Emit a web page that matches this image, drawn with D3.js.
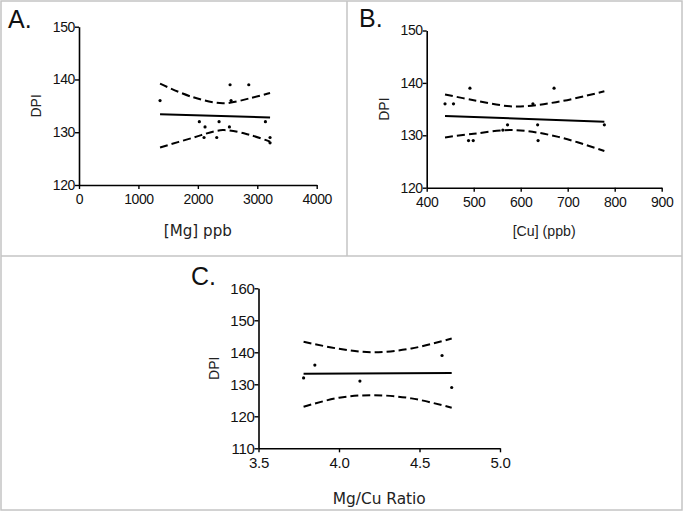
<!DOCTYPE html>
<html><head><meta charset="utf-8">
<script src="https://cdn.jsdelivr.net/npm/d3@7"></script>
<style>
body{margin:0;background:#fff;}
svg{display:block;}
</style></head>
<body>
<svg id="c" width="684" height="513"></svg>
<script>
// ---- data ----
const mgX   = [1364, 2025, 2121, 2104, 2357, 2318, 2542, 2559, 2531, 2857, 3137, 3215, 3215];
const mgDPI = [136, 132, 131, 129, 132, 129, 139, 136, 131, 139, 132, 129, 128];
const mgFitX = [1364, 3215];
const mgFitY = [133.4, 132.8];
const mgBandX = [1364, 1900, 2420, 2900, 3215];
const mgUpper = [139.2, 136.7, 135.5, 136.5, 137.45];
const mgLower = [127.1, 128.9, 130.4, 129.4, 128.2];
const mgXTicks = [0, 1000, 2000, 3000, 4000];
const mgYTicks = [120, 130, 140, 150];

const cuX   = [439, 457, 492, 489, 499, 562, 572, 626, 636, 637, 671, 778];
const cuDPI = [136, 136, 139, 129, 129, 131, 132, 136, 132, 129, 139, 132];
const cuFitX = [439, 778];
const cuFitY = [133.7, 132.6];
const cuBandX = [439, 500, 587, 680, 778];
const cuUpper = [137.8, 136.7, 135.5, 136.4, 138.4];
const cuLower = [129.6, 130.3, 131.0, 129.7, 127.0];
const cuXTicks = [400, 500, 600, 700, 800, 900];
const cuYTicks = [120, 130, 140, 150];

const ratioX   = [3.78, 3.85, 4.13, 4.64, 4.70];
const ratioDPI = [132, 136, 131, 139, 129];
const ratioFitX = [3.78, 4.70];
const ratioFitY = [133.3, 133.5];
const ratioBandX = [3.78, 4.0, 4.21, 4.45, 4.70];
const ratioUpper = [143.3, 141.1, 140.0, 141.2, 144.3];
const ratioLower = [123.0, 125.8, 126.6, 125.6, 122.7];
const ratioXTicks = [3.5, 4.0, 4.5, 5.0];
const ratioYTicks = [110, 120, 130, 140, 150, 160];

const svg = d3.select("#c");

// panel frames
const frame = svg.append("g").attr("stroke", "#c4c4c4").attr("stroke-width", 1.5).attr("fill", "none");
frame.append("rect").attr("x", 1).attr("y", 1).attr("width", 681).attr("height", 509);
frame.append("line").attr("x1", 1).attr("x2", 682).attr("y1", 256).attr("y2", 256);
frame.append("line").attr("x1", 347).attr("x2", 347).attr("y1", 1).attr("y2", 256);

const sans = "Liberation Sans, Arial, sans-serif";

function panel(o) {
  const x = d3.scaleLinear().domain(o.xDomain).range([o.left, o.right]);
  const y = d3.scaleLinear().domain(o.yDomain).range([o.bottom, o.top]);
  const g = svg.append("g");

  const xa = g.append("g").attr("transform", `translate(0,${o.bottom})`)
    .call(d3.axisBottom(x).tickValues(o.xTicks).tickSize(4).tickSizeOuter(0).tickPadding(5).tickFormat(o.xFmt || d3.format("d")));
  const ya = g.append("g").attr("transform", `translate(${o.left},0)`)
    .call(d3.axisLeft(y).tickValues(o.yTicks).tickSize(4).tickSizeOuter(0).tickPadding(0).tickFormat(d3.format("d")));
  [xa, ya].forEach(a => {
    a.select(".domain").attr("stroke", "#000").attr("stroke-width", 1.6);
    a.selectAll(".tick line").attr("stroke", "#000").attr("stroke-width", 1.4);
    a.selectAll("text").attr("fill", "#111").style("font-family", sans)
      .style("font-size", o.tickSize).style("letter-spacing", o.tickSpacing);
  });

  // confidence bands
  const band = d3.line().x(d => x(d[0])).y(d => y(d[1])).curve(d3.curveCatmullRom);
  [o.upper, o.lower].forEach(arr => {
    g.append("path").datum(o.bandX.map((v, i) => [v, arr[i]]))
      .attr("d", band).attr("fill", "none").attr("stroke", "#000")
      .attr("stroke-width", 2).attr("stroke-dasharray", "8,4");
  });
  // fit line
  g.append("path").datum(o.fitX.map((v, i) => [v, o.fitY[i]]))
    .attr("d", d3.line().x(d => x(d[0])).y(d => y(d[1])))
    .attr("fill", "none").attr("stroke", "#000").attr("stroke-width", 2);
  // points
  g.selectAll("circle.pt").data(o.px.map((v, i) => [v, o.py[i]])).join("circle")
    .attr("class", "pt").attr("cx", d => x(d[0])).attr("cy", d => y(d[1])).attr("r", 1.6).attr("fill", "#000");

  // labels
  g.append("text").attr("x", o.letterX).attr("y", o.letterY).text(o.letter)
    .style("font-family", sans).style("font-size", "25px").attr("fill", "#111");
  g.append("text").attr("transform", `translate(${o.yLabX},${(o.top + o.bottom) / 2}) rotate(-90)`)
    .attr("text-anchor", "middle").attr("dy", "0.35em").text("DPI")
    .style("font-family", sans).style("font-size", "14px").attr("fill", "#222");
  g.append("text").attr("x", (o.left + o.right) / 2).attr("y", o.xLabY).attr("text-anchor", "middle")
    .attr("textLength", o.xLabLen).attr("lengthAdjust", "spacingAndGlyphs")
    .text(o.xLabel).style("font-family", o.xLabFont).style("font-size", o.xLabSize).attr("fill", "#222");
}

panel({
  xDomain: [0, 4000], yDomain: [120, 150],
  left: 79, right: 316.7, top: 26.7, bottom: 185,
  xTicks: mgXTicks, yTicks: mgYTicks, tickSize: "14px", tickSpacing: "-0.4px",
  px: mgX, py: mgDPI, fitX: mgFitX, fitY: mgFitY,
  bandX: mgBandX, upper: mgUpper, lower: mgLower,
  letter: "A.", letterX: 8, letterY: 28, yLabX: 36,
  xLabel: "[Mg] ppb", xLabY: 236, xLabFont: "DejaVu Sans, Verdana, sans-serif", xLabSize: "15px", xLabLen: 68
});

panel({
  xDomain: [400, 900], yDomain: [120, 150],
  left: 426.7, right: 661.7, top: 30.5, bottom: 187.7,
  xTicks: cuXTicks, yTicks: cuYTicks, tickSize: "14px", tickSpacing: "-0.4px",
  px: cuX, py: cuDPI, fitX: cuFitX, fitY: cuFitY,
  bandX: cuBandX, upper: cuUpper, lower: cuLower,
  letter: "B.", letterX: 359, letterY: 27, yLabX: 384,
  xLabel: "[Cu] (ppb)", xLabY: 236, xLabFont: sans, xLabSize: "14.5px", xLabLen: 63
});

panel({
  xDomain: [3.5, 5.0], yDomain: [110, 160],
  left: 258.5, right: 500, top: 288.3, bottom: 448.3,
  xTicks: ratioXTicks, yTicks: ratioYTicks, xFmt: d3.format(".1f"), tickSize: "15px", tickSpacing: "-0.3px",
  px: ratioX, py: ratioDPI, fitX: ratioFitX, fitY: ratioFitY,
  bandX: ratioBandX, upper: ratioUpper, lower: ratioLower,
  letter: "C.", letterX: 191, letterY: 285, yLabX: 214,
  xLabel: "Mg/Cu Ratio", xLabY: 504, xLabFont: "DejaVu Sans, Verdana, sans-serif", xLabSize: "16px", xLabLen: 93
});
</script>
</body></html>
